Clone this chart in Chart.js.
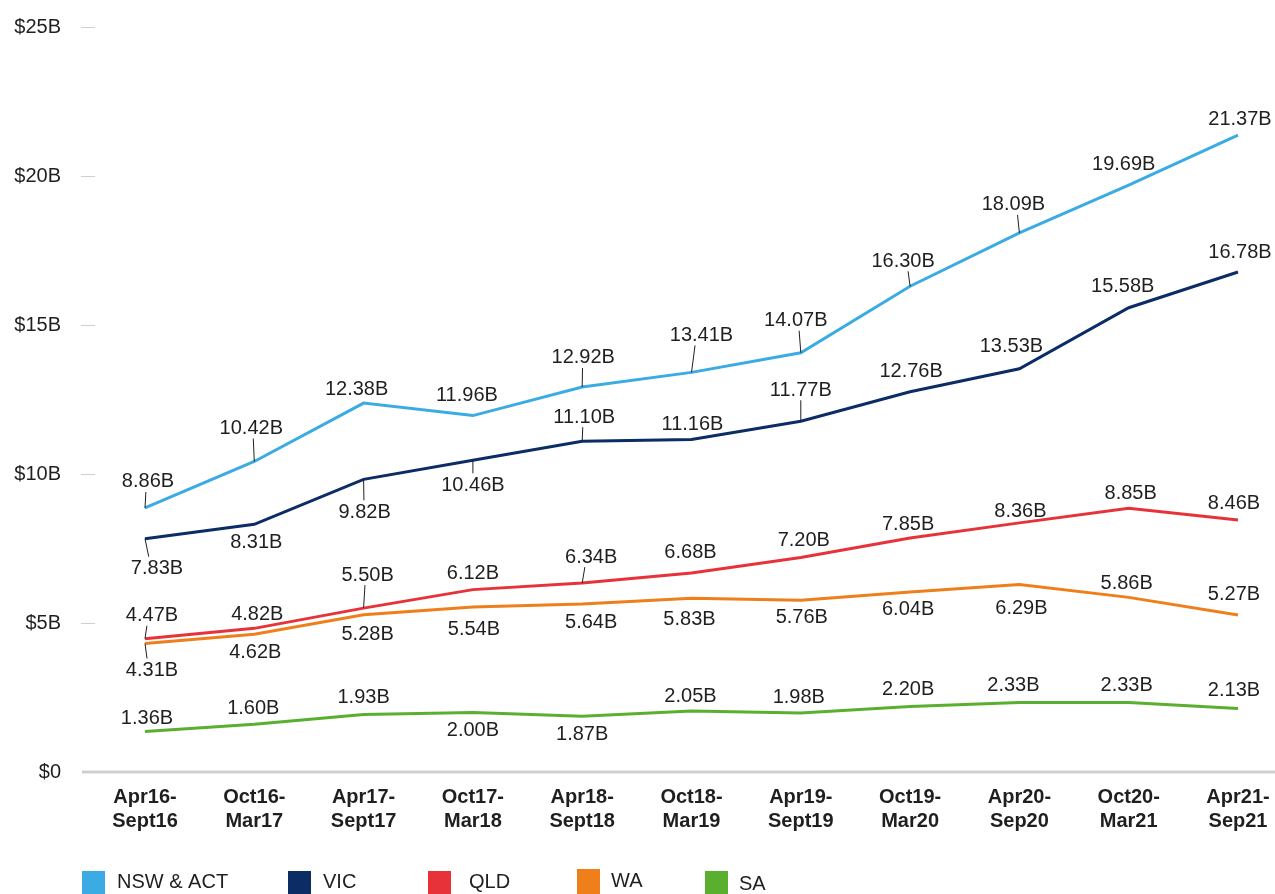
<!DOCTYPE html>
<html>
<head>
<meta charset="utf-8">
<script src="https://cdn.jsdelivr.net/npm/chart.js@4.4.0/dist/chart.umd.min.js"></script>
<style>
html, body { margin: 0; padding: 0; background: #fff; }
canvas { display: block; }
</style>
</head>
<body>
<canvas id="chart" width="1275" height="894"></canvas>
<script>
// periods (two-line tick labels)
const periods = [
  ['Apr16-', 'Sept16'], ['Oct16-', 'Mar17'], ['Apr17-', 'Sept17'], ['Oct17-', 'Mar18'],
  ['Apr18-', 'Sept18'], ['Oct18-', 'Mar19'], ['Apr19-', 'Sept19'], ['Oct19-', 'Mar20'],
  ['Apr20-', 'Sep20'], ['Oct20-', 'Mar21'], ['Apr21-', 'Sep21']
];

// values in $ billions
const nswAct = [8.86, 10.42, 12.38, 11.96, 12.92, 13.41, 14.07, 16.30, 18.09, 19.69, 21.37];
const vic    = [7.83, 8.31, 9.82, 10.46, 11.10, 11.16, 11.77, 12.76, 13.53, 15.58, 16.78];
const qld    = [4.47, 4.82, 5.50, 6.12, 6.34, 6.68, 7.20, 7.85, 8.36, 8.85, 8.46];
const wa     = [4.31, 4.62, 5.28, 5.54, 5.64, 5.83, 5.76, 6.04, 6.29, 5.86, 5.27];
const sa     = [1.36, 1.60, 1.93, 2.00, 1.87, 2.05, 1.98, 2.20, 2.33, 2.33, 2.13];

const seriesNames = ['NSW & ACT', 'VIC', 'QLD', 'WA', 'SA'];
const yMax = 25;
const yStep = 5;

const colors = ['#3aabe3', '#0c2c66', '#e8323a', '#ef7f1a', '#5ab02e'];

// where each value label sits relative to its point [dx, dy] in px
const labelOffsets = [
  [[3,-27],[-3,-34],[-7,-15],[-6,-21],[1,-30],[10,-38],[-5,-33],[-7,-26],[-6,-29],[-5,-22],[2,-17]],
  [[12,29],[2,17],[1,32],[0,24],[2,-25],[1,-16],[0,-32],[1,-21],[-8,-23],[-6,-22],[2,-20]],
  [[7,-24],[3,-15],[4,-34],[0,-17],[9,-27],[-1,-21],[3,-18],[-2,-15],[1,-12],[2,-16],[-4,-17]],
  [[7,26],[1,17],[4,19],[1,22],[9,18],[-2,20],[1,16],[-2,16],[2,23],[-2,-15],[-4,-21]],
  [[2,-14],[-1,-17],[0,-18],[0,17],[0,17],[-1,-15],[-2,-17],[-2,-18],[-6,-18],[-2,-18],[-4,-19]]
];

const FONT = '"Liberation Sans", Arial, Helvetica, sans-serif';
const TEXT = '#1f1f1f';

// axis line + short tick marks on the left
const axisPlugin = {
  id: 'axisPlugin',
  beforeDatasetsDraw(chart) {
    const ctx = chart.ctx;
    const y = chart.scales.y;
    ctx.save();
    ctx.strokeStyle = '#cfcfcf';
    ctx.lineWidth = 1;
    y.ticks.forEach(t => {
      if (t.value === 0) return;
      const py = Math.round(y.getPixelForValue(t.value)) + 0.5;
      ctx.beginPath();
      ctx.moveTo(81, py);
      ctx.lineTo(95, py);
      ctx.stroke();
    });
    ctx.lineWidth = 3;
    const by = y.getPixelForValue(0);
    ctx.beginPath();
    ctx.moveTo(82, by);
    ctx.lineTo(chart.width, by);
    ctx.stroke();
    ctx.restore();
  }
};

// value labels with leader lines
const valueLabels = {
  id: 'valueLabels',
  afterDatasetsDraw(chart) {
    const ctx = chart.ctx;
    ctx.save();
    ctx.font = '20px ' + FONT;
    ctx.textAlign = 'center';
    ctx.textBaseline = 'middle';
    chart.data.datasets.forEach((ds, di) => {
      const meta = chart.getDatasetMeta(di);
      meta.data.forEach((pt, i) => {
        const [dx, dy] = labelOffsets[di][i];
        const lx = pt.x + dx, ly = pt.y + dy;
        if (Math.abs(dy) >= 24) {
          const len = Math.abs(dy) - 11;
          const f = len / Math.abs(dy);
          ctx.strokeStyle = TEXT;
          ctx.lineWidth = 1;
          ctx.beginPath();
          ctx.moveTo(pt.x, pt.y);
          ctx.lineTo(pt.x + dx * f * 0.5, pt.y + Math.sign(dy) * len);
          ctx.stroke();
        }
        ctx.fillStyle = TEXT;
        ctx.fillText(ds.data[i].toFixed(2) + 'B', lx, ly + 1);
      });
    });
    ctx.restore();
  }
};

// legend squares along the bottom
const legendPlugin = {
  id: 'legendPlugin',
  afterDraw(chart) {
    const ctx = chart.ctx;
    const boxX = [82, 288, 428, 577, 705];
    const textX = [117, 323, 469, 611, 739];
    const textY = [882, 882, 882, 881, 884];
    ctx.save();
    ctx.font = '20px ' + FONT;
    ctx.textBaseline = 'middle';
    ctx.textAlign = 'left';
    chart.data.datasets.forEach((ds, i) => {
      ctx.fillStyle = ds.borderColor;
      ctx.fillRect(boxX[i], i === 3 ? 869 : 871, 23, 25);
      ctx.fillStyle = TEXT;
      ctx.fillText(ds.label, textX[i], textY[i]);
    });
    ctx.restore();
  }
};

const seriesData = [nswAct, vic, qld, wa, sa];

new Chart(document.getElementById('chart'), {
  type: 'line',
  data: {
    labels: periods,
    datasets: seriesData.map((d, i) => ({
      label: seriesNames[i],
      data: d,
      borderColor: colors[i],
      backgroundColor: colors[i],
      borderWidth: 3,
      pointRadius: 0,
      tension: 0,
      fill: false
    }))
  },
  options: {
    responsive: false,
    animation: false,
    devicePixelRatio: 1,
    layout: { padding: { top: 27, right: 37, bottom: 61, left: 0 } },
    plugins: {
      legend: { display: false },
      tooltip: { enabled: false }
    },
    scales: {
      x: {
        offset: false,
        grid: { display: false, drawTicks: false },
        border: { display: false },
        ticks: {
          autoSkip: false,
          maxRotation: 0,
          minRotation: 0,
          padding: 13,
          color: TEXT,
          font: { family: FONT, size: 20, weight: 'bold', lineHeight: 1.2 }
        },
        afterFit(scale) {
          scale.height = 61;
          scale.paddingLeft = 0;
          scale.paddingRight = 0;
        }
      },
      y: {
        min: 0,
        max: yMax,
        grid: { display: false, drawTicks: false },
        border: { display: false },
        ticks: {
          stepSize: yStep,
          padding: 84,
          color: TEXT,
          font: { family: FONT, size: 20 },
          callback: v => v === 0 ? '$0' : '$' + v + 'B'
        },
        afterFit(scale) {
          scale.width = 145;
          scale.paddingTop = 0;
          scale.paddingBottom = 0;
        }
      }
    }
  },
  plugins: [axisPlugin, valueLabels, legendPlugin]
});
</script>
</body>
</html>
